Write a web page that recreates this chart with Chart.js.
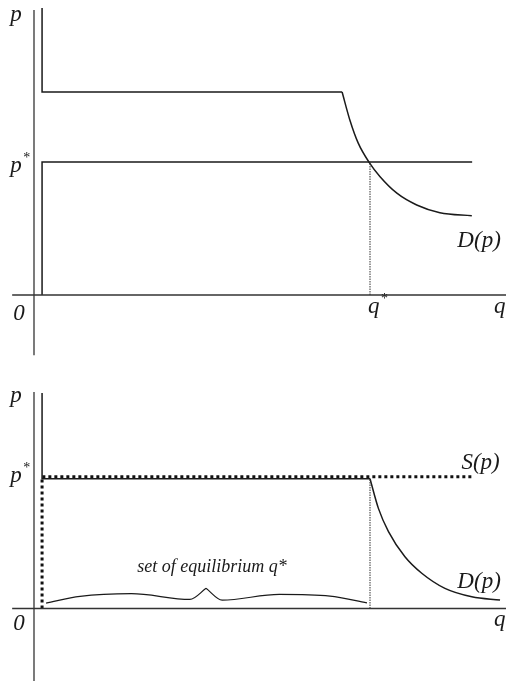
<!DOCTYPE html>
<html>
<head>
<meta charset="utf-8">
<script src="https://cdn.jsdelivr.net/npm/chart.js@4.4.1/dist/chart.umd.min.js"></script>
<style>
  body { margin: 0; background: #fff; }
  canvas { display: block; }
</style>
</head>
<body>
<canvas id="top" width="506" height="370"></canvas>
<canvas id="bottom" width="506" height="311"></canvas>
<script>
// quantities (q) and prices (p), q* = 10

// top panel
const axisQ = [-0.65, 14.05];
const topAxisP = [-1.79, 8.48];
const topDemandStepQ = [0.24, 0.24, 9.17];
const topDemandStepP = [8.54, 6.04, 6.04];
const topDemandCurveQ = [9.17, 9.4, 9.65, 9.98, 10.3, 10.8, 11.39, 12.08, 13.03];
const topDemandCurveP = [6.04, 5.21, 4.52, 3.94, 3.52, 3.03, 2.68, 2.45, 2.36];
const topSupplyQ = [0.24, 0.24, 13.04];
const topSupplyP = [0, 3.96, 3.96];
const qStar = 10;
const topPStar = 3.96;

// bottom panel
const botAxisP = [-2.16, 6.44];
const botDemandStepQ = [0.24, 0.24, 10];
const botDemandStepP = [6.41, 3.86, 3.86];
const botDemandCurveQ = [10, 10.25, 10.55, 11.04, 11.54, 12.23, 13.03, 13.87];
const botDemandCurveP = [3.86, 2.98, 2.29, 1.54, 1.05, 0.6, 0.35, 0.25];
const botSupplyQ = [0.24, 0.24, 13.04];
const botSupplyP = [0, 3.92, 3.92];
const botPStar = 3.88;
// curly brace under the flat part, split at its tip
const braceLeftQ = [0.36, 1.37, 2.9, 4.64, 5.12];
const braceLeftP = [0.16, 0.36, 0.44, 0.27, 0.60];
const braceRightQ = [5.12, 5.6, 7.3, 8.81, 9.91];
const braceRightP = [0.60, 0.25, 0.42, 0.37, 0.17];

const pts = (qs, ps) => qs.map((q, i) => ({ x: q, y: ps[i] }));

const line = (data, extra) => Object.assign({
  data: data,
  showLine: true,
  pointRadius: 0,
  borderColor: '#1a1a1a',
  borderWidth: 1.5,
  tension: 0,
  fill: false
}, extra || {});

const smooth = { cubicInterpolationMode: 'monotone' };

// draws the italic letters at data coordinates
const labelPlugin = {
  id: 'labels',
  afterDatasetsDraw(chart, args, opts) {
    const ctx = chart.ctx;
    const x = chart.scales.x, y = chart.scales.y;
    ctx.save();
    ctx.fillStyle = '#1a1a1a';
    ctx.textBaseline = 'alphabetic';
    opts.items.forEach((l) => {
      const size = l.size || 23;
      ctx.font = `italic ${size}px "Liberation Serif", "DejaVu Serif", serif`;
      ctx.textAlign = l.align || 'left';
      const px = x.getPixelForValue(l.q);
      const py = y.getPixelForValue(l.p);
      ctx.fillText(l.text, px, py);
      if (l.sup) {
        const w = ctx.measureText(l.text).width;
        ctx.font = `${Math.round(size * 0.6)}px "Liberation Serif", serif`;
        ctx.textAlign = 'left';
        ctx.fillText(l.sup, px + w + 1.5, py - 10);
      }
    });
    ctx.restore();
  }
};

const baseOptions = (yMin, yMax, items) => ({
  responsive: false,
  animation: false,
  layout: { padding: 0 },
  plugins: {
    legend: { display: false },
    tooltip: { enabled: false },
    labels: { items: items }
  },
  scales: {
    x: { type: 'linear', display: false, min: -34 / 33.6, max: 472 / 33.6 },
    y: { type: 'linear', display: false, min: yMin, max: yMax }
  }
});

new Chart(document.getElementById('top'), {
  type: 'scatter',
  data: {
    datasets: [
      line(pts(axisQ, [0, 0]), { borderColor: '#333', borderWidth: 1.3 }),
      line(pts([0, 0], topAxisP), { borderColor: '#333', borderWidth: 1.3 }),
      line(pts([qStar, qStar], [0, topPStar]), { borderColor: '#333', borderWidth: 1, borderDash: [1.5, 1] }),
      line(pts(topDemandStepQ, topDemandStepP)),
      line(pts(topDemandCurveQ, topDemandCurveP), smooth),
      line(pts(topSupplyQ, topSupplyP))
    ]
  },
  options: baseOptions(-75 / 33.6, 295 / 33.6, [
    { text: 'p', q: -0.71, p: 8.15 },
    { text: 'p', sup: '*', q: -0.71, p: 3.66 },
    { text: '0', q: -0.62, p: -0.74 },
    { text: 'q', sup: '*', q: 9.94, p: -0.54 },
    { text: 'q', q: 13.69, p: -0.54 },
    { text: 'D(p)', q: 12.6, p: 1.43 }
  ]),
  plugins: [labelPlugin]
});

new Chart(document.getElementById('bottom'), {
  type: 'scatter',
  data: {
    datasets: [
      line(pts(axisQ, [0, 0]), { borderColor: '#333', borderWidth: 1.3 }),
      line(pts([0, 0], botAxisP), { borderColor: '#333', borderWidth: 1.3 }),
      line(pts([qStar, qStar], [0, botPStar]), { borderColor: '#333', borderWidth: 1, borderDash: [1.5, 1] }),
      line(pts(botDemandStepQ, botDemandStepP)),
      line(pts(botDemandCurveQ, botDemandCurveP), smooth),
      line(pts(botSupplyQ, botSupplyP), { borderWidth: 3, borderDash: [3, 3], borderColor: '#111' }),
      line(pts(braceLeftQ, braceLeftP), Object.assign({ borderWidth: 1.2 }, smooth)),
      line(pts(braceRightQ, braceRightP), Object.assign({ borderWidth: 1.2 }, smooth))
    ]
  },
  options: baseOptions(-72.5 / 33.6, 238.5 / 33.6, [
    { text: 'p', q: -0.71, p: 6.15 },
    { text: 'p', sup: '*', q: -0.71, p: 3.77 },
    { text: '0', q: -0.62, p: -0.64 },
    { text: 'q', q: 13.69, p: -0.52 },
    { text: 'S(p)', q: 12.72, p: 4.15 },
    { text: 'D(p)', q: 12.6, p: 0.61 },
    { text: 'set of equilibrium q*', q: 5.3, p: 1.09, size: 18, align: 'center' }
  ]),
  plugins: [labelPlugin]
});
</script>
</body>
</html>
